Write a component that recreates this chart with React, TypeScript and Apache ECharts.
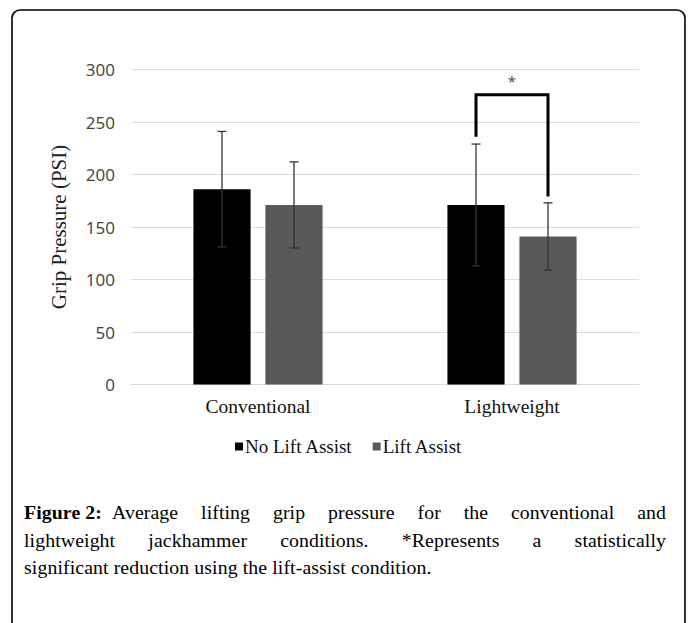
import React, { useEffect, useRef } from "react";
import * as echarts from "echarts";

const categories = ["Conventional", "Lightweight"];
const seriesNames = ["No Lift Assist", "Lift Assist"];
const noLiftMeans = [186, 171];
const liftMeans = [171, 141];
const noLiftErr = [55, 58];
const liftErr = [41, 32];
// significance bracket on "Lightweight": left leg bottom, right leg bottom, top
const bracketCategory = 1;
const bracketLeftBottom = 236;
const bracketRightBottom = 179;
const bracketTop = 276;
const yTicks = [0, 50, 100, 150, 200, 250, 300];

const captionLabel = "Figure 2:";
const captionLines = [
  "Average lifting grip pressure for the conventional and",
  "lightweight jackhammer conditions. *Represents a statistically",
  "significant reduction using the lift-assist condition.",
];

const BAR_FRAC = 0.225;
const GAP_FRAC = 0.26;

function barOffset(api: any) {
  const band = api.size([1, 0])[0];
  const bw = band * BAR_FRAC;
  return (bw + bw * GAP_FRAC) / 2;
}

function errRender(sign: number) {
  return (params: any, api: any) => {
    const off = barOffset(api) * sign;
    const cat = api.value(0);
    const lo = api.coord([cat, api.value(1)]);
    const hi = api.coord([cat, api.value(2)]);
    const x = lo[0] + off;
    const cap = 4.5;
    const style = { stroke: "#333", lineWidth: 1.3 };
    return {
      type: "group",
      children: [
        { type: "line", shape: { x1: x, y1: lo[1], x2: x, y2: hi[1] }, style },
        { type: "line", shape: { x1: x - cap, y1: lo[1], x2: x + cap, y2: lo[1] }, style },
        { type: "line", shape: { x1: x - cap, y1: hi[1], x2: x + cap, y2: hi[1] }, style },
      ],
    };
  };
}

const captionFont = "'Liberation Serif', 'Times New Roman', serif";

export default function App() {
  const ref = useRef<HTMLDivElement>(null);
  useEffect(() => {
    if (!ref.current) return;
    const chart = echarts.init(ref.current, null, { renderer: "svg" });
    const serif = "'Liberation Serif', 'Times New Roman', serif";
    chart.setOption({
      animation: false,
      backgroundColor: "#fff",
      graphic: [
        {
          type: "rect",
          shape: { x: 12, y: 10, width: 673, height: 700, r: 8 },
          style: { fill: "none", stroke: "#000", lineWidth: 1.6 },
          silent: true,
          z: 100,
        },
      ],
      grid: { left: 131, top: 69.5, width: 508, height: 315 },
      legend: {
        data: seriesNames,
        left: 230,
        top: 432,
        icon: "rect",
        itemWidth: 8,
        itemHeight: 8,
        itemGap: 20,
        textStyle: { fontFamily: serif, fontSize: 19, color: "#111", padding: [0, 0, 0, -3] },
      },
      xAxis: {
        type: "category",
        data: categories,
        axisLine: { lineStyle: { color: "#d9d9d9", width: 1 } },
        axisTick: { show: false },
        axisLabel: { fontFamily: serif, fontSize: 19.5, color: "#111", margin: 12 },
      },
      yAxis: {
        type: "value",
        min: 0,
        max: 300,
        interval: 50,
        name: "Grip Pressure (PSI)",
        nameLocation: "middle",
        nameGap: 62,
        nameTextStyle: { fontFamily: serif, fontSize: 21, color: "#222" },
        axisLine: { show: false },
        axisTick: { show: false },
        splitLine: { lineStyle: { color: "#dcdcdc", width: 1 } },
        axisLabel: {
          fontFamily: "'Open Sans', sans-serif",
          fontSize: 17,
          color: "#404040",
          margin: 16,
          formatter: (v: number) => (yTicks.includes(v) ? String(v) : ""),
        },
      },
      series: [
        {
          name: seriesNames[0],
          type: "bar",
          data: noLiftMeans,
          barWidth: BAR_FRAC * 100 + "%",
          barGap: GAP_FRAC * 100 + "%",
          itemStyle: { color: "#000" },
        },
        {
          name: seriesNames[1],
          type: "bar",
          data: liftMeans,
          barWidth: BAR_FRAC * 100 + "%",
          barGap: GAP_FRAC * 100 + "%",
          itemStyle: { color: "#595959" },
        },
        {
          type: "custom",
          name: "err0",
          renderItem: errRender(-1),
          data: noLiftMeans.map((m, i) => [i, m - noLiftErr[i], m + noLiftErr[i]]),
          z: 5,
          silent: true,
        },
        {
          type: "custom",
          name: "err1",
          renderItem: errRender(1),
          data: liftMeans.map((m, i) => [i, m - liftErr[i], m + liftErr[i]]),
          z: 5,
          silent: true,
        },
        {
          type: "custom",
          name: "bracket",
          z: 6,
          silent: true,
          data: [[bracketCategory, bracketLeftBottom, bracketRightBottom, bracketTop]],
          renderItem: (params: any, api: any) => {
            const off = barOffset(api);
            const cat = api.value(0);
            const l = api.coord([cat, api.value(1)]);
            const r = api.coord([cat, api.value(2)]);
            const t = api.coord([cat, api.value(3)]);
            const lx = l[0] - off;
            const rx = l[0] + off;
            return {
              type: "group",
              children: [
                {
                  type: "polyline",
                  shape: { points: [[lx, l[1]], [lx, t[1]], [rx, t[1]], [rx, r[1]]] },
                  style: { stroke: "#000", lineWidth: 3, fill: "none" },
                },
                {
                  type: "text",
                  style: {
                    text: "*",
                    x: (lx + rx) / 2,
                    y: t[1] - 14,
                    align: "center",
                    verticalAlign: "middle",
                    fontSize: 15,
                    fontFamily: "'Open Sans', sans-serif",
                    fill: "#444",
                  },
                },
              ],
            };
          },
        },
      ],
    });
    return () => chart.dispose();
  }, []);

  const lineStyle: React.CSSProperties = {
    position: "absolute",
    left: 24,
    width: 642,
    height: 27.5,
    fontFamily: captionFont,
    fontSize: 19.8,
    letterSpacing: "0.1px",
    lineHeight: "27.5px",
    color: "#000",
    whiteSpace: "nowrap",
  };

  return (
    <div style={{ position: "absolute", left: 0, top: 0, width: 689, height: 623, overflow: "hidden", background: "#fff" }}>
      <div ref={ref} style={{ position: "absolute", left: 0, top: 0, width: 689, height: 623 }} />
      <div style={{ ...lineStyle, top: 499, display: "flex" }}>
        <span style={{ fontWeight: "bold", marginRight: 10 }}>{captionLabel}</span>
        <span style={{ flex: 1, textAlign: "justify", textAlignLast: "justify" }}>{captionLines[0]}</span>
      </div>
      <div style={{ ...lineStyle, top: 526.5, textAlign: "justify", textAlignLast: "justify" }}>{captionLines[1]}</div>
      <div style={{ ...lineStyle, top: 554 }}>{captionLines[2]}</div>
    </div>
  );
}
